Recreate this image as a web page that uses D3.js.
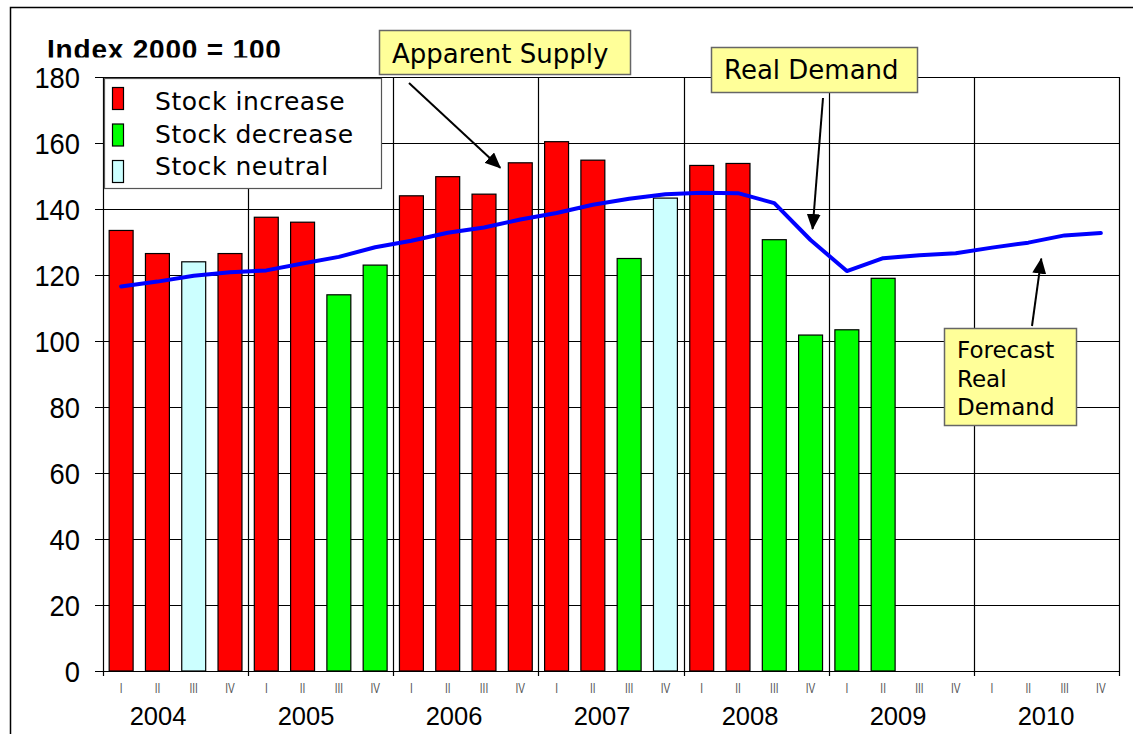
<!DOCTYPE html>
<html>
<head>
<meta charset="utf-8">
<script src="https://cdn.jsdelivr.net/npm/d3@7"></script>
<style>
  html, body { margin: 0; padding: 0; background: #fff; }
  svg { display: block; }
</style>
</head>
<body>
<svg id="chart" width="1133" height="734"></svg>
<script>
// ---------------- data ----------------
const years = ["2004", "2005", "2006", "2007", "2008", "2009", "2010"];
const quarterNames = ["I", "II", "III", "IV"];
const yTicks = [0, 20, 40, 60, 80, 100, 120, 140, 160, 180];

// Apparent supply (bars), index 2000 = 100, 2004 Q1 .. 2009 Q2
const apparentSupply = [
  133.5, 126.5, 124, 126.5,
  137.5, 136, 114, 123,
  144, 149.8, 144.5, 154,
  160.4, 154.8, 125, 143.3,
  153.2, 153.8, 130.7, 101.8,
  103.4, 119
];
// stock status per quarter
const stockStatus = [
  "increase", "increase", "neutral", "increase",
  "increase", "increase", "decrease", "decrease",
  "increase", "increase", "increase", "increase",
  "increase", "increase", "decrease", "neutral",
  "increase", "increase", "decrease", "decrease",
  "decrease", "decrease"
];
// Real demand (line), 2004 Q1 .. 2010 Q4
const realDemand = [
  116.5, 118, 119.8, 120.8,
  121.4, 123.5, 125.5, 128.4,
  130.4, 132.8, 134.4, 136.8,
  138.8, 141.3, 143.1, 144.5,
  144.9, 144.8, 141.8, 130.6,
  121.2, 125.1, 126, 126.6,
  128.3, 129.8, 132, 132.7
];
const legendLabels = ["Stock increase", "Stock decrease", "Stock neutral"];
const legendKeys = ["increase", "decrease", "neutral"];

// ---------------- layout ----------------
const svg = d3.select("#chart");
const plot = { left: 103, right: 1119, top: 77, bottom: 671 };
const colors = { increase: "#FF0000", decrease: "#00FF00", neutral: "#CCFFFF" };

const quarterIds = [];
years.forEach(y => quarterNames.forEach(q => quarterIds.push(y + "-" + q)));

const x = d3.scaleBand().domain(quarterIds).range([plot.left, plot.right])
  .paddingInner(0.34).paddingOuter(0.17);
const xc = i => x(quarterIds[i]) + x.bandwidth() / 2;
const xYear = d3.scaleBand().domain(years).range([plot.left, plot.right]);
// year labels are spread slightly differently from the year bands in the original
const xYearLabel = d3.scalePoint().domain(years).range([158, 1046]);
const y = d3.scaleLinear().domain([0, 180]).range([plot.bottom, plot.top]);

// outer frame
svg.append("rect").attr("x", 10.5).attr("y", 7.5).attr("width", 1135).attr("height", 740)
  .attr("fill", "none").attr("stroke", "#000").attr("stroke-width", 1.5);

// gridlines horizontal
svg.append("g").selectAll("line").data(yTicks).join("line")
  .attr("x1", plot.left - 8).attr("x2", plot.right)
  .attr("y1", d => Math.round(y(d)) + 0.5).attr("y2", d => Math.round(y(d)) + 0.5)
  .attr("stroke", "#000").attr("stroke-width", 1.2);

// vertical year gridlines
const yearEdges = years.map(yr => xYear(yr)).concat([plot.right]);
svg.append("g").selectAll("line").data(yearEdges).join("line")
  .attr("x1", d => Math.round(d) + 0.5).attr("x2", d => Math.round(d) + 0.5)
  .attr("y1", plot.top).attr("y2", plot.bottom + 5)
  .attr("stroke", "#000").attr("stroke-width", 1.2);

// y tick labels
svg.append("g").selectAll("text").data(yTicks).join("text")
  .attr("x", 80).attr("y", d => y(d) + 11)
  .attr("text-anchor", "end")
  .attr("font-family", "'Liberation Sans', Arial, sans-serif")
  .attr("font-size", 30)
  .attr("textLength", d => String(d).length * 15.2)
  .attr("lengthAdjust", "spacingAndGlyphs")
  .attr("fill", "#000")
  .text(d => d);

// bars
svg.append("g").selectAll("rect").data(apparentSupply).join("rect")
  .attr("x", (d, i) => x(quarterIds[i]))
  .attr("width", x.bandwidth())
  .attr("y", d => y(d))
  .attr("height", d => y(0) - y(d))
  .attr("fill", (d, i) => colors[stockStatus[i]])
  .attr("stroke", "#000").attr("stroke-width", 1.2);

// demand line
svg.append("path")
  .datum(realDemand)
  .attr("d", d3.line().x((d, i) => xc(i)).y(d => y(d)))
  .attr("fill", "none").attr("stroke", "#0000FF").attr("stroke-width", 4)
  .attr("stroke-linejoin", "round").attr("stroke-linecap", "round");

// quarter labels
svg.append("g").selectAll("text").data(quarterIds).join("text")
  .attr("transform", (d, i) => `translate(${xc(i)},693) scale(0.72,1)`)
  .attr("text-anchor", "middle")
  .attr("font-family", "'Liberation Sans', Arial, sans-serif")
  .attr("font-size", 14)
  .attr("fill", "#555")
  .text(d => d.split("-")[1]);

// year labels
svg.append("g").selectAll("text").data(years).join("text")
  .attr("x", d => xYearLabel(d))
  .attr("y", 725)
  .attr("text-anchor", "middle")
  .attr("font-family", "'Liberation Sans', Arial, sans-serif")
  .attr("font-size", 25.5)
  .attr("fill", "#000")
  .text(d => d);

// title (bottom slightly clipped like the reference)
svg.append("clipPath").attr("id", "titleClip")
  .append("rect").attr("x", 0).attr("y", 0).attr("width", 400).attr("height", 57.5);
svg.append("text")
  .attr("clip-path", "url(#titleClip)")
  .attr("x", 47).attr("y", 58.5)
  .attr("font-family", "'Liberation Sans', Arial, sans-serif")
  .attr("font-weight", "bold")
  .attr("font-size", 28)
  .attr("letter-spacing", 0.8)
  .attr("fill", "#000")
  .text("Index 2000 = 100");

// legend
const legend = svg.append("g");
legend.append("rect").attr("x", 104.5).attr("y", 78.5).attr("width", 277).attr("height", 110)
  .attr("fill", "#fff").attr("stroke", "#555").attr("stroke-width", 1.2);
legendKeys.forEach((k, i) => {
  legend.append("rect").attr("x", 112.5).attr("y", 87.5 + i * 36.5).attr("width", 11).attr("height", 22)
    .attr("fill", colors[k]).attr("stroke", "#000").attr("stroke-width", 1.2);
  legend.append("text").attr("x", 155).attr("y", 110 + i * 32.5)
    .attr("font-family", "'DejaVu Sans', Verdana, sans-serif")
    .attr("font-size", 25).attr("letter-spacing", 0.55).attr("fill", "#000")
    .text(legendLabels[i]);
});

// arrow marker
const defs = svg.append("defs");
defs.append("marker").attr("id", "arrow")
  .attr("markerUnits", "userSpaceOnUse")
  .attr("viewBox", "0 0 16 14").attr("refX", 15).attr("refY", 7)
  .attr("markerWidth", 16).attr("markerHeight", 14).attr("orient", "auto")
  .append("path").attr("d", "M0,0 L16,7 L0,14 Z").attr("fill", "#000");

function callout(bx, by, bw, bh, lines, fs, lh, tx, ty) {
  const g = svg.append("g");
  g.append("rect").attr("x", bx + 0.5).attr("y", by + 0.5).attr("width", bw).attr("height", bh)
    .attr("fill", "#FFFF99").attr("stroke", "#666").attr("stroke-width", 1.5);
  lines.forEach((t, i) => {
    g.append("text").attr("x", tx).attr("y", ty + i * lh)
      .attr("font-family", "'DejaVu Sans', Verdana, sans-serif")
      .attr("font-size", fs).attr("fill", "#000").text(t);
  });
}
function arrow(x1, y1, x2, y2) {
  svg.append("line").attr("x1", x1).attr("y1", y1).attr("x2", x2).attr("y2", y2)
    .attr("stroke", "#000").attr("stroke-width", 2).attr("marker-end", "url(#arrow)");
}

// Apparent Supply
callout(379, 30, 251, 44, ["Apparent Supply"], 26, 0, 392, 63);
arrow(409, 83, xc(11) - 20, y(apparentSupply[11]) + 5);

// Real Demand
callout(711, 47, 206, 45, ["Real Demand"], 26, 0, 724, 79);
arrow(823, 98, xc(19) + 2, y(realDemand[19]) - 11);

// Forecast Real Demand
callout(944, 328, 132, 97, ["Forecast", "Real", "Demand"], 23, 28.5, 957, 358);
arrow(1032, 326, xc(25) + 13, y(realDemand[25]) + 16);
</script>
</body>
</html>
